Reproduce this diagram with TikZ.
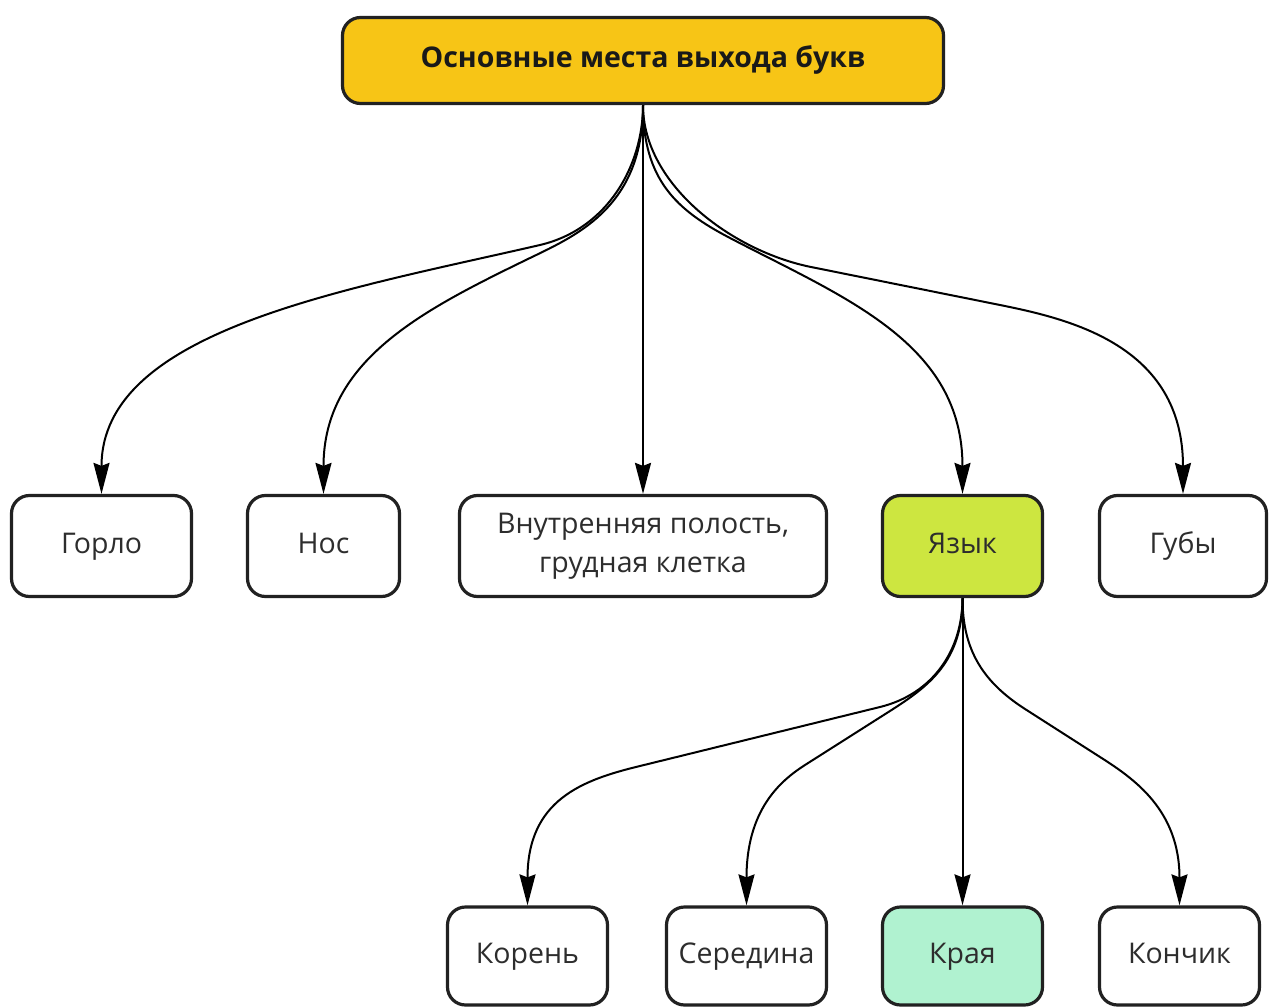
\documentclass[tikz,border=0pt]{standalone}
\usepackage{fontspec}
\setmainfont{Open Sans}
\usetikzlibrary{arrows.meta}
\definecolor{topfill}{RGB}{247,197,22}
\definecolor{tonguefill}{RGB}{205,230,64}
\definecolor{edgefill}{RGB}{176,242,208}
\definecolor{txt}{RGB}{45,45,45}
\tikzset{
  box/.style={draw=black!87, line width=3.2pt, rounded corners=18pt, fill=white,
    minimum height=101pt, align=center, text=txt, font=\fontsize{28.5}{39}\selectfont, inner sep=0pt},
  oneline/.style={box, text height=20pt, text depth=6pt},
  arr/.style={line width=2pt, -{Stealth[length=31pt,width=16pt,inset=3pt]}},
}
\begin{document}
\begin{tikzpicture}[x=1pt,y=-1pt]
\useasboundingbox (0,0) rectangle (1269,1008);
\node[oneline, fill=topfill, minimum width=601pt, minimum height=86pt, font=\bfseries\fontsize{28.5}{34}\selectfont, text=black!90] (top) at (643,60.5) {Основные места выхода букв};
\node[oneline, minimum width=180pt] (gorlo) at (101.5,546) {Горло};
\node[oneline, minimum width=152pt] (nos) at (323.5,546) {Нос};
\node[box, minimum width=367pt] (vn) at (643,546) {Внутренняя полость,\\грудная клетка};
\node[oneline, fill=tonguefill, minimum width=160pt] (yaz) at (962.5,546) {Язык};
\node[oneline, minimum width=167pt] (guby) at (1183,546) {Губы};
\node[oneline, minimum width=160pt, minimum height=98pt] (koren) at (527.5,956) {Корень};
\node[oneline, minimum width=160pt, minimum height=98pt] (ser) at (746.5,956) {Середина};
\node[oneline, fill=edgefill, minimum width=160pt, minimum height=98pt] (kraya) at (962.5,956) {Края};
\node[oneline, minimum width=160pt, minimum height=98pt] (konch) at (1179.5,956) {Кончик};
% top level connectors
\draw[arr] (top.south) .. controls (643,165) and (608,229) .. (540,245)
  .. controls (345,290) and (101.5,330) .. (gorlo.north);
\draw[arr] (top.south) .. controls (643,205) and (580,234) .. (530,258)
  .. controls (423,310) and (323.5,360) .. (nos.north);
\draw[arr] (top.south) -- (vn.north);
\draw[arr] (top.south) .. controls (643,180) and (676.8,210.3) .. (730,238)
  .. controls (845,298) and (962.5,343) .. (yaz.north);
\draw[arr] (top.south) .. controls (643,185) and (732.6,251.2) .. (811,267) -- (1000,305)
  .. controls (1069,319) and (1183,345) .. (guby.north);
% second level connectors
\draw[arr] (yaz.south) .. controls (962.5,650) and (933,694) .. (880,707) -- (640,766)
  .. controls (582,780) and (527.5,800) .. (koren.north);
\draw[arr] (yaz.south) .. controls (962.5,662) and (928,686.7) .. (890,711) -- (805,765)
  .. controls (780,781) and (746.5,810) .. (ser.north);
\draw[arr] (yaz.south) -- (kraya.north);
\draw[arr] (yaz.south) .. controls (962.5,650) and (983,682) .. (1025,709) -- (1100,757)
  .. controls (1134,778.6) and (1179.5,810) .. (konch.north);
\end{tikzpicture}
\end{document}
